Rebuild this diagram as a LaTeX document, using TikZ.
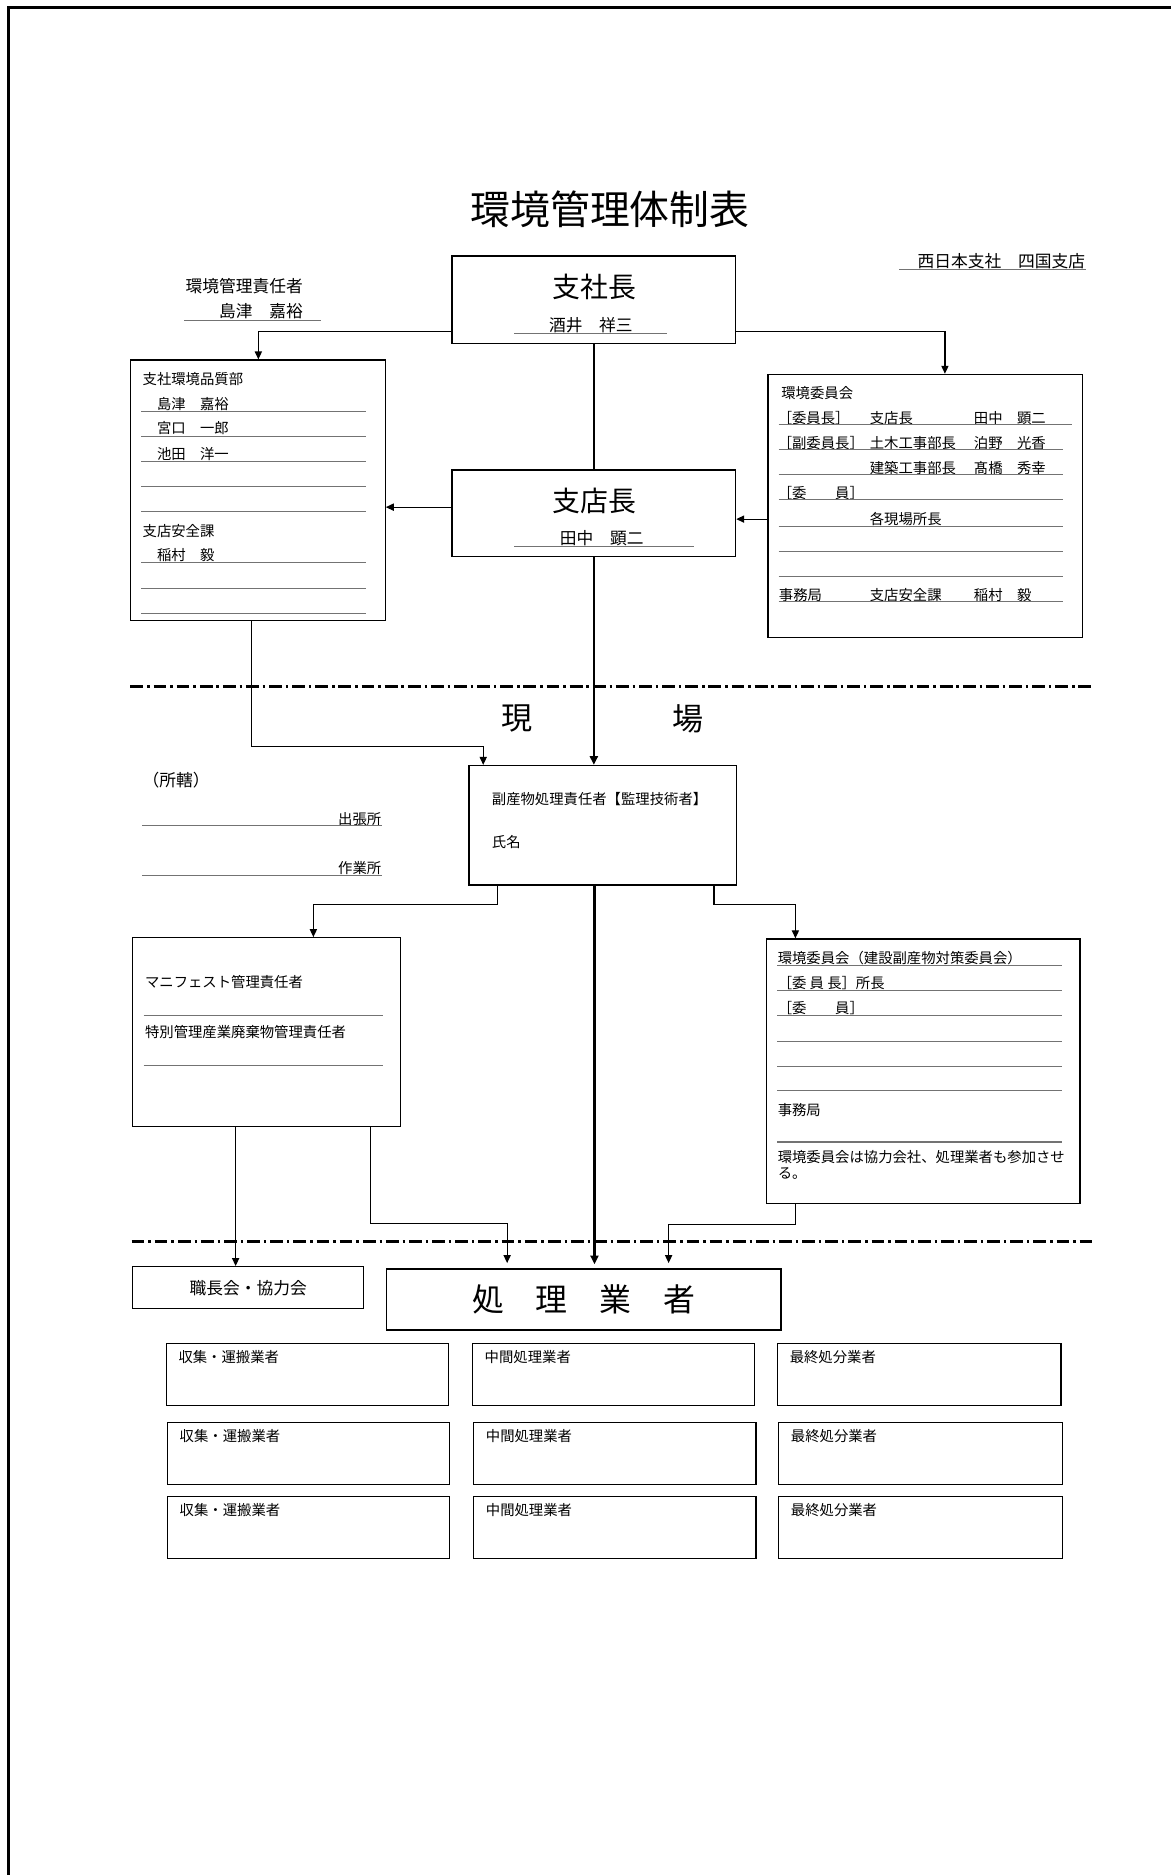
\documentclass[tikz,border=0pt]{standalone}
\usepackage{fontspec}
\setmainfont{Noto Sans CJK JP}
\usetikzlibrary{arrows.meta,fit}
\begin{document}
\begin{tikzpicture}[x=0.75pt,y=-0.75pt,
  box/.style={draw=black, line width=0.8pt, inner sep=0pt},
  conn/.style={line width=0.75pt},
  arr/.style={line width=0.75pt,-{Triangle[length=5pt,width=4.5pt]}},
  mainln/.style={line width=1.6pt},
  mainarr/.style={line width=1.6pt,-{Triangle[length=5.5pt,width=5pt]}},
  ul/.style={draw=black!55, line width=0.6pt},
  dd/.style={line width=1.5pt, dash pattern=on 8pt off 2.5pt on 1.5pt off 2.5pt},
  tl/.style={inner sep=0pt, anchor=west, font=\fontsize{9}{10}\selectfont},
  tm/.style={inner sep=0pt, anchor=west, font=\fontsize{10.5}{12}\selectfont},
  tc/.style={inner sep=0pt, font=\fontsize{10.5}{12}\selectfont}]
\useasboundingbox (0,0) rectangle (979,1567.6);
% page border
\draw[line width=1.9pt] (7,1567.6) -- (7,6) -- (979,6);

% title
\node[inner sep=0pt, font=\fontsize{25}{28}\selectfont] (title) at (510,175) {環境管理体制表};
\node[tm] (branch) at (767,218) {西日本支社　四国支店};
\draw[ul] (752,225) -- (908,225);
\node[tm] (sekinin) at (155,239) {環境管理責任者};
\node[tm] (sekininname) at (183,260) {島津　嘉裕};
\draw[ul] (154,268) -- (268,268);

% boxes
\node[box, fit={(378,214)(615,287)}] (shacho) {};
\node[box, fit={(378,393)(615,465)}] (shiten) {};
\node[box, fit={(109,301)(322,519)}] (hinshitsu) {};
\node[box, fit={(642,313)(905,533)}] (iinkai) {};
\node[box, fit={(392,640)(616,740)}] (fukusan) {};
\node[box, fit={(111,784)(335,942)}] (mani) {};
\node[box, fit={(641,785)(903,1006)}] (genba) {};
\node[box, fit={(111,1059)(304,1094)}] (shokucho) {};
\node[box, fit={(323,1061)(653,1112)}] (shori) {};

% 支社長
\node[inner sep=0pt, font=\fontsize{17.5}{20}\selectfont] (shachoT) at (497,240) {支社長};
\node[tc] (shachoN) at (494,272) {酒井　祥三};
\draw[ul] (430,279) -- (558,279);
% 支店長
\node[inner sep=0pt, font=\fontsize{17.5}{20}\selectfont] (shitenT) at (497,419) {支店長};
\node[tc] (shitenN) at (503,450) {田中　顕二};
\draw[ul] (430,457) -- (580,457);

% left box content
\node[tl] (h1) at (119,317) {支社環境品質部};
\node[tl] (h2) at (131,338) {島津　嘉裕};
\node[tl] (h3) at (131,358) {宮口　一郎};
\node[tl] (h4) at (131,380) {池田　洋一};
\node[tl] (h5) at (119,444) {支店安全課};
\node[tl] (h6) at (131,464) {稲村　毅};
\foreach \yy in {344,365,386,407,428,470,492,513}
  \draw[ul] (118,\yy) -- (306,\yy);

% right box content
\node[tl] (i1) at (653,328.6) {環境委員会};
\node[tl] (i2a) at (650,349.6) {［委員長］};
\node[tl] (i2b) at (727,349.6) {支店長};
\node[tl] (i2c) at (814,349.6) {田中　顕二};
\node[tl] (i3a) at (650,370.4) {［副委員長］};
\node[tl] (i3b) at (727,370.4) {土木工事部長};
\node[tl] (i3c) at (814,370.4) {泊野　光香};
\node[tl] (i4b) at (727,391.3) {建築工事部長};
\node[tl] (i4c) at (814,391.3) {髙橋　秀幸};
\node[tl] (i5a) at (650,412) {［委　　員］};
\node[tl] (i6b) at (727,434) {各現場所長};
\node[tl] (i7a) at (651,497.6) {事務局};
\node[tl] (i7b) at (727,497.6) {支店安全課};
\node[tl] (i7c) at (814,497.6) {稲村　毅};
\draw[ul] (651,355) -- (896,355);
\foreach \yy in {376,397,418,440,461,482,503}
  \draw[ul] (651,\yy) -- (889,\yy);

% dash-dot separators
\draw[dd] (109,574) -- (915,574);
\draw[dd] (110,1038) -- (915,1038);
\node[inner sep=0pt, font=\fontsize{19.5}{22}\selectfont] (gen) at (432,601) {現};
\node[inner sep=0pt, font=\fontsize{19.5}{22}\selectfont] (ba) at (575,601) {場};

% 所轄
\node[tm] (shokatsu) at (119,652) {（所轄）};
\node[tl, anchor=east] (shutcho) at (319,685) {出張所};
\draw[ul] (119,690.5) -- (319,690.5);
\node[tl, anchor=east] (sagyo) at (319,726) {作業所};
\draw[ul] (119,732) -- (319,732);

% 副産物
\node[tl] (f1) at (411,668) {副産物処理責任者【監理技術者】};
\node[tl] (f2) at (411,704) {氏名};

% manifest box
\node[tl] (m1) at (121,821) {マニフェスト管理責任者};
\draw[ul] (120,849) -- (320,849);
\node[tl] (m2) at (121,863) {特別管理産業廃棄物管理責任者};
\draw[ul] (120,891) -- (320,891);

% genba iinkai
\node[tl] (g1) at (650,801) {環境委員会（建設副産物対策委員会）};
\draw[ul] (650,807.5) -- (888,807.5);
\node[tl] (g2) at (650,822) {［委 員 長］所長};
\draw[ul] (650,828) -- (888,828);
\node[tl] (g3) at (650,843) {［委　　員］};
\foreach \yy in {849,871,892,912}
  \draw[ul] (650,\yy) -- (888,\yy);
\node[tl] (g4) at (650,928) {事務局};
\draw[ul, line width=1pt] (650,954.6) -- (888,954.6);
\node[tl] (g5) at (650,967) {環境委員会は協力会社、処理業者も参加させ};
\node[tl] (g6) at (650,981) {る。};

% bottom
\node[tc] (shokuchoT) at (207.5,1077) {職長会・協力会};
\node[inner sep=0pt, font=\fontsize{20}{22}\selectfont] (shoriT) at (488,1086) {処　理　業　者};

\foreach \r/\ya/\yb/\dx in {1/1123/1175/0, 2/1189/1241/1, 3/1251/1303/1} {
  \node[box, fit={(139+\dx,\ya)(375+\dx,\yb)}] (c1r\r) {};
  \node[box, fit={(395+\dx,\ya)(631+\dx,\yb)}] (c2r\r) {};
  \node[box, fit={(650+\dx,\ya)(887+\dx,\yb)}] (c3r\r) {};
  \node[tl, anchor=north west] (c1t\r) at (149+\dx,\ya+6) {収集・運搬業者};
  \node[tl, anchor=north west] (c2t\r) at (405+\dx,\ya+6) {中間処理業者};
  \node[tl, anchor=north west] (c3t\r) at (660+\dx,\ya+6) {最終処分業者};
}

% connectors
\draw[arr] (shacho.west |- 0,277) -| (hinshitsu.north -| 216,0);
\draw[arr] (shacho.east |- 0,277) -| (iinkai.north -| 790,0);
\draw[mainln] (shacho.south) -- (shiten.north);
\draw[arr] (shiten.west |- 0,424) -- (hinshitsu.east |- 0,424);
\draw[arr] (iinkai.west |- 0,434) -- (shiten.east |- 0,434);
\draw[mainarr] (shiten.south) -- (fukusan.north -| shiten.south);
\coordinate (hb) at (404,624);
\draw[arr] (hinshitsu.south -| 210,0) |- (hb) -- (fukusan.north -| hb);
\coordinate (fl) at (416,756);
\draw[arr] (fukusan.south -| fl) -- (fl) -| (mani.north -| 262,0);
\coordinate (fr) at (597,756);
\draw[arr] (fukusan.south -| fr) -- (fr) -| (genba.north -| 665,0);
\coordinate (sc) at (497,1057);
\draw[mainarr] (fukusan.south -| sc) -- (sc);
\draw[arr] (mani.south -| 197,0) -- (shokucho.north -| 197,0);
\coordinate (ml) at (424,1023);
\coordinate (mle) at (424,1056);
\draw[arr] (mani.south -| 310,0) |- (ml) -- (mle);
\coordinate (gl) at (559,1024);
\coordinate (gle) at (559,1056);
\draw[arr] (genba.south -| 665,0) |- (gl) -- (gle);
\end{tikzpicture}
\end{document}
